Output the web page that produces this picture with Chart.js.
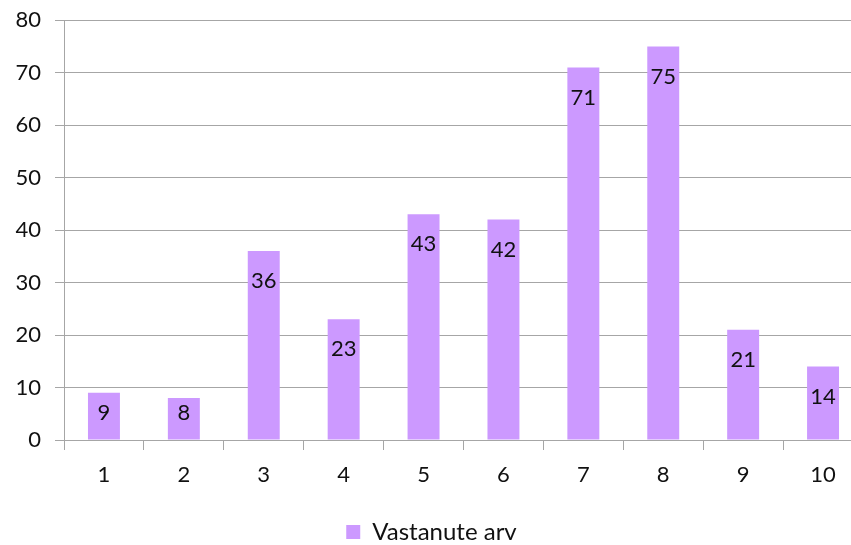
<!DOCTYPE html>
<html>
<head>
<meta charset="utf-8">
<script src="https://cdn.jsdelivr.net/npm/chart.js@4/dist/chart.umd.min.js"></script>
<style>
html,body{margin:0;padding:0;background:#fff;overflow:hidden;width:851px;height:545px;}
#wrap{position:absolute;left:0;top:-7px;width:866px;height:561px;}
</style>
</head>
<body>
<div id="wrap"><canvas id="c" width="866" height="561"></canvas></div>
<script>
const categories = ['1','2','3','4','5','6','7','8','9','10'];
const seriesName = 'Vastanute arv';
const values = [9, 8, 36, 23, 43, 42, 71, 75, 21, 14];
const yTicks = [0,10,20,30,40,50,60,70,80];

const FONT = 'Lato, "Open Sans", sans-serif';
const GRID = '#a6a6a6';

const labelPlugin = {
  id: 'barLabels',
  afterDatasetsDraw(chart) {
    const ctx = chart.ctx;
    const meta = chart.getDatasetMeta(0);
    ctx.save();
    ctx.font = '22px ' + FONT;
    ctx.fillStyle = '#111';
    ctx.textAlign = 'center';
    ctx.textBaseline = 'middle';
    meta.data.forEach((bar, i) => {
      const cy = Math.min(bar.y + 30, bar.base - 27);
      ctx.fillText(String(values[i]), bar.x, cy);
    });
    ctx.restore();
  }
};

new Chart(document.getElementById('c'), {
  type: 'bar',
  data: {
    labels: categories,
    datasets: [{
      label: seriesName,
      data: values,
      backgroundColor: '#cc99ff',
      borderWidth: 0,
      barPercentage: 0.4,
      categoryPercentage: 1.0
    }]
  },
  options: {
    responsive: false,
    animation: false,
    devicePixelRatio: 1,
    layout: { padding: { left: 0, right: 3, top: 3, bottom: 0 } },
    plugins: {
      legend: {
        position: 'bottom',
        labels: {
          font: { family: FONT, size: 24 },
          color: '#111',
          boxWidth: 14,
          boxHeight: 14,
          padding: 4
        }
      },
      tooltip: { enabled: false }
    },
    scales: {
      x: {
        offset: true,
        grid: { display: true, drawOnChartArea: false, color: GRID, tickLength: 10, offset: true },
        border: { color: GRID },
        ticks: { font: { family: FONT, size: 22 }, color: '#111', padding: 12 },
        afterFit(s) { s.height = 76; }
      },
      y: {
        min: 0, max: 80,
        afterBuildTicks(s) { s.ticks = yTicks.map(v => ({ value: v })); },
        grid: { color: GRID, tickLength: 9 },
        border: { color: GRID },
        ticks: { font: { family: FONT, size: 22 }, color: '#111', padding: 14 },
        afterFit(s) { s.width = 64; }
      }
    }
  },
  plugins: [labelPlugin]
});
</script>
</body>
</html>
